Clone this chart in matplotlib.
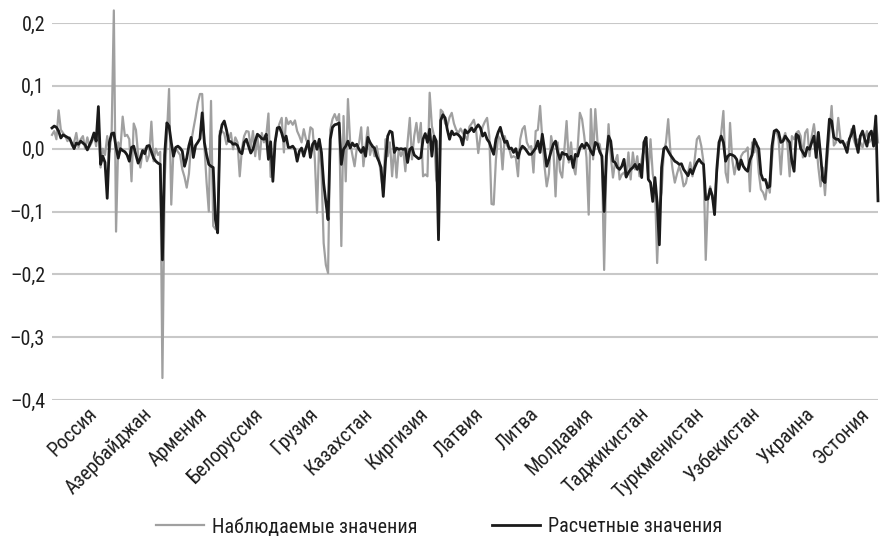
import numpy as np
import matplotlib
matplotlib.use("Agg")
import matplotlib.pyplot as plt
from matplotlib.ticker import FixedLocator, FuncFormatter

plt.rcParams['font.family'] = ['Roboto Condensed', 'PT Sans Narrow', 'DejaVu Sans']

countries = ["Россия", "Азербайджан", "Армения", "Белоруссия", "Грузия", "Казахстан",
             "Киргизия", "Латвия", "Литва", "Молдавия", "Таджикистан", "Туркменистан",
             "Узбекистан", "Украина", "Эстония"]

# observed values (obs_*) and model estimates (est_*), 25 periods per country
obs_russia = [0.022, 0.028, 0.015, 0.061, 0.030, 0.025, 0.020, 0.012, 0.018, 0.005, 0.010, 0.025, 0.002,
              0.015, 0.020, 0.000, 0.018, 0.003, 0.010, 0.022, 0.004, 0.040, -0.030, 0.000, -0.010]
est_russia = [0.033, 0.036, 0.034, 0.028, 0.017, 0.022, 0.020, 0.018, 0.016, 0.008, 0.000, 0.009, 0.007,
              0.012, 0.009, 0.006, -0.002, 0.006, 0.014, 0.025, 0.012, 0.067, -0.025, -0.012, -0.022]

obs_azerbaijan = [0.020, -0.005, 0.025, 0.220, -0.132, 0.010, 0.000, 0.051, 0.020, 0.022, 0.015, -0.052, 0.040,
                  0.030, -0.010, -0.030, -0.005, 0.000, -0.020, -0.010, 0.043, -0.020, 0.000, -0.010, -0.005]
est_azerbaijan = [-0.079, 0.010, 0.024, 0.025, 0.002, -0.015, 0.000, -0.003, -0.005, -0.010, -0.020, 0.002, 0.004,
                  -0.010, -0.023, -0.015, -0.003, -0.008, 0.004, 0.005, -0.005, -0.015, -0.020, -0.023, -0.025]

obs_armenia = [-0.365, -0.050, 0.020, 0.095, -0.089, 0.000, 0.000, -0.005, -0.010, -0.033, -0.045, -0.062, -0.040,
               0.010, 0.031, 0.050, 0.073, 0.087, 0.087, 0.004, -0.054, -0.100, 0.076, -0.123, -0.128]
est_armenia = [-0.177, -0.010, 0.041, 0.036, 0.010, -0.012, 0.002, 0.004, 0.001, -0.004, -0.028, -0.015, 0.005,
               0.018, -0.014, 0.005, 0.010, 0.016, 0.057, 0.010, -0.010, -0.025, -0.028, -0.030, -0.113]

obs_belarus = [-0.128, 0.028, 0.028, 0.024, 0.007, 0.015, 0.025, -0.001, 0.018, 0.010, -0.044, 0.000, 0.020,
               0.028, 0.027, 0.002, 0.028, -0.012, 0.020, -0.017, 0.025, 0.010, 0.020, 0.056, -0.045]
est_belarus = [-0.134, 0.020, 0.038, 0.044, 0.030, 0.012, 0.011, 0.007, 0.008, 0.005, -0.005, -0.008, 0.010,
               0.015, 0.004, -0.007, -0.001, 0.012, 0.023, 0.020, 0.016, 0.015, 0.023, -0.017, 0.011]

obs_georgia = [-0.040, 0.010, 0.028, 0.040, 0.049, -0.006, 0.049, 0.039, 0.044, 0.038, 0.045, 0.028, 0.020,
               0.010, 0.031, 0.015, 0.007, 0.034, 0.031, -0.016, -0.102, 0.015, -0.033, -0.150, -0.185]
est_georgia = [-0.052, 0.010, 0.033, 0.034, 0.025, 0.012, 0.020, 0.002, 0.002, 0.004, -0.001, -0.020, -0.004,
               0.001, -0.012, 0.001, 0.012, -0.014, 0.007, 0.012, -0.001, 0.015, -0.006, -0.055, -0.085]

obs_kazakhstan = [-0.198, 0.030, 0.047, 0.055, 0.045, 0.055, -0.155, 0.052, -0.052, 0.079, 0.010, -0.010, -0.028,
                  0.000, 0.008, 0.034, -0.028, 0.005, 0.034, -0.010, 0.006, -0.012, 0.004, -0.015, -0.045]
est_kazakhstan = [-0.113, 0.015, 0.034, 0.038, 0.039, 0.041, -0.025, -0.001, 0.004, 0.012, 0.001, 0.009, 0.004,
                  0.007, -0.001, -0.006, 0.002, -0.012, 0.018, 0.010, 0.004, 0.001, -0.012, -0.020, -0.030]

obs_kyrgyzstan = [-0.070, 0.015, -0.012, 0.010, -0.044, 0.004, -0.046, 0.000, -0.012, -0.001, -0.036, 0.010, 0.049,
                  -0.017, 0.020, 0.041, 0.010, 0.041, -0.044, -0.041, -0.044, 0.089, 0.036, 0.020, -0.050]
est_kyrgyzstan = [-0.076, -0.020, 0.020, 0.028, 0.026, -0.006, 0.001, -0.001, 0.000, -0.001, 0.000, -0.022, -0.001,
                  0.002, -0.010, -0.013, -0.016, -0.014, 0.015, 0.024, 0.010, 0.031, -0.012, 0.020, 0.012]

obs_latvia = [-0.060, 0.062, 0.058, 0.040, 0.036, 0.050, 0.057, 0.040, 0.030, 0.025, 0.032, 0.025, 0.020,
              0.014, 0.035, 0.040, 0.046, 0.030, -0.007, 0.020, 0.035, 0.043, 0.049, 0.020, -0.088]
est_latvia = [-0.145, 0.045, 0.054, 0.049, 0.030, 0.015, 0.028, 0.022, 0.024, 0.022, 0.018, 0.006, 0.030,
              0.025, 0.028, 0.033, 0.027, 0.033, 0.038, 0.033, 0.020, 0.025, 0.015, 0.010, 0.000]

obs_lithuania = [-0.089, -0.017, 0.020, 0.015, -0.033, 0.020, 0.005, 0.000, -0.014, -0.012, -0.014, -0.044, 0.015,
                 0.031, 0.036, 0.010, 0.002, 0.004, -0.038, 0.028, 0.030, 0.068, 0.015, -0.028, -0.060]
est_lithuania = [-0.009, 0.015, 0.026, 0.034, 0.020, 0.010, 0.012, 0.000, 0.001, -0.006, 0.000, -0.015, -0.002,
                 0.004, 0.001, -0.004, -0.009, -0.009, -0.004, 0.001, 0.012, -0.006, 0.023, -0.001, -0.028]

obs_moldova = [-0.040, 0.020, 0.000, -0.076, 0.010, -0.036, -0.046, 0.000, 0.044, -0.022, 0.010, -0.028, -0.041,
               0.000, 0.057, 0.047, 0.020, -0.014, -0.105, 0.063, -0.017, 0.063, 0.010, 0.007, -0.017]
est_moldova = [-0.017, -0.004, 0.007, 0.012, -0.006, -0.017, -0.006, -0.009, -0.009, -0.017, -0.012, -0.030, -0.009,
               -0.012, 0.001, 0.007, 0.001, 0.009, 0.004, -0.004, -0.010, 0.010, 0.007, -0.005, -0.012]

obs_tajikistan = [-0.193, -0.030, 0.039, -0.012, -0.046, -0.020, -0.010, -0.049, -0.041, -0.038, -0.046, -0.006, -0.049,
                  -0.006, -0.033, -0.012, -0.044, -0.017, 0.000, -0.010, -0.044, 0.015, -0.040, -0.060, -0.182]
est_tajikistan = [-0.100, -0.012, 0.020, 0.012, -0.020, -0.022, -0.030, -0.033, -0.028, -0.017, -0.045, -0.038, -0.033,
                  -0.030, -0.025, -0.033, -0.025, -0.046, 0.010, 0.018, -0.049, -0.054, -0.084, -0.046, -0.086]

obs_turkmenistan = [-0.090, -0.070, -0.005, 0.010, 0.047, -0.005, -0.033, -0.054, -0.040, -0.028, -0.040, -0.060, -0.055,
                    -0.038, -0.022, -0.044, -0.017, 0.015, 0.020, 0.004, -0.022, -0.177, -0.080, -0.060, -0.080]
est_turkmenistan = [-0.153, -0.030, 0.000, 0.003, -0.004, -0.010, -0.015, -0.020, -0.022, -0.025, -0.024, -0.033, -0.038,
                    -0.043, -0.033, -0.040, -0.030, -0.022, -0.017, -0.022, -0.025, -0.081, -0.080, -0.064, -0.075]

obs_uzbekistan = [-0.080, -0.040, -0.001, 0.025, 0.060, -0.038, -0.054, 0.041, -0.017, -0.041, -0.022, -0.033, -0.012,
                  -0.006, -0.004, 0.002, -0.068, 0.010, -0.006, 0.010, -0.038, -0.065, -0.070, -0.081, -0.054]
est_uzbekistan = [-0.105, -0.033, 0.010, 0.020, 0.010, -0.020, -0.012, -0.009, -0.010, -0.012, -0.017, -0.033, -0.018,
                  -0.028, -0.033, -0.036, -0.018, -0.010, 0.015, 0.007, 0.000, -0.040, -0.050, -0.049, -0.062]

obs_ukraine = [-0.070, -0.017, 0.024, 0.028, 0.015, -0.041, 0.015, 0.025, 0.007, -0.044, 0.020, 0.015, 0.025,
               0.028, 0.020, -0.014, 0.025, 0.031, -0.012, 0.020, 0.039, 0.010, -0.030, -0.060, -0.030]
est_ukraine = [-0.060, 0.004, 0.028, 0.030, 0.026, 0.010, 0.012, 0.020, 0.015, 0.010, -0.020, -0.036, 0.023,
               0.020, 0.000, -0.006, -0.012, 0.002, -0.001, 0.010, 0.020, -0.014, 0.026, -0.010, -0.050]

obs_estonia = [-0.074, -0.020, 0.025, 0.068, 0.005, 0.010, 0.049, 0.015, 0.010, 0.004, 0.010, 0.012, 0.031,
               0.015, 0.004, 0.015, 0.010, 0.002, 0.015, 0.028, 0.010, 0.015, 0.020, 0.045, 0.010]
est_estonia = [-0.054, -0.001, 0.047, 0.044, 0.018, 0.015, 0.015, 0.010, 0.012, 0.004, -0.006, 0.015, 0.023,
               0.036, 0.010, -0.006, 0.020, 0.028, 0.015, 0.004, 0.023, 0.028, 0.004, 0.052, -0.083]

y_ticks = [-0.4, -0.3, -0.2, -0.1, 0.0, 0.1, 0.2]
legend_labels = ["Наблюдаемые значения", "Расчетные значения"]

observed = np.concatenate([obs_russia, obs_azerbaijan, obs_armenia, obs_belarus, obs_georgia,
                           obs_kazakhstan, obs_kyrgyzstan, obs_latvia, obs_lithuania, obs_moldova,
                           obs_tajikistan, obs_turkmenistan, obs_uzbekistan, obs_ukraine, obs_estonia])
estimated = np.concatenate([est_russia, est_azerbaijan, est_armenia, est_belarus, est_georgia,
                            est_kazakhstan, est_kyrgyzstan, est_latvia, est_lithuania, est_moldova,
                            est_tajikistan, est_turkmenistan, est_uzbekistan, est_ukraine, est_estonia])
per_country = len(obs_russia)
x = np.arange(len(observed))

fig = plt.figure(figsize=(8.8, 5.4), dpi=100)
ax = fig.add_axes([52 / 880, 140 / 540, 826 / 880, 377 / 540])

ax.plot(x, observed, color="#a0a0a0", lw=1.6, label=legend_labels[0], clip_on=False, zorder=3)
ax.plot(x, estimated, color="#1a1a1a", lw=2.0, label=legend_labels[1], clip_on=False, zorder=4)

ax.set_xlim(0, len(x) - 1)
ax.set_ylim(-0.4, 0.2)
ax.yaxis.set_major_locator(FixedLocator(y_ticks))
ax.yaxis.set_major_formatter(FuncFormatter(
    lambda v, _: f"{v:.1f}".replace(".", ",").replace("-", "\u2013")))
ax.grid(axis="y", color="#c8c8c8", lw=1.5)
ax.set_axisbelow(True)
for s in ax.spines.values():
    s.set_visible(False)

# country names sit towards the right half of each block of periods
label_pos = np.arange(len(countries)) * per_country + 22
ax.set_xticks(label_pos)
ax.set_xticklabels(countries, rotation=45, ha="right", rotation_mode="default")
ax.tick_params(axis="x", length=0, pad=3, labelsize=14.5, colors="#1e1e1e")
ax.tick_params(axis="y", length=0, pad=5, labelsize=14.5, colors="#1e1e1e")

fig.legend(loc="center", bbox_to_anchor=(0.499, 13 / 540), ncol=2, frameon=False,
           fontsize=14.5, handlelength=2.4, columnspacing=3.7, handletextpad=0.4,
           labelcolor="#1e1e1e")

fig.savefig("out.png", dpi=100)
